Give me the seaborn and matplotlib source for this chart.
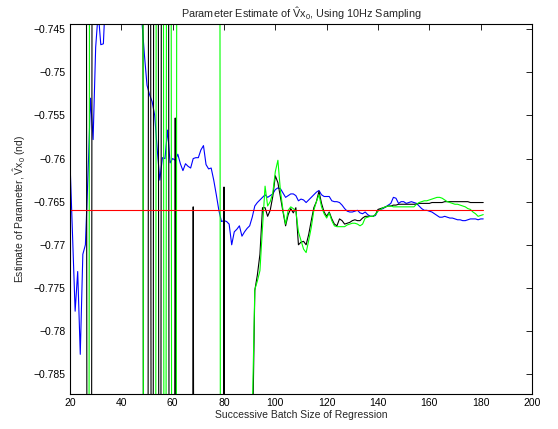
import numpy as np
import pandas as pd
import matplotlib
matplotlib.use("Agg")
import matplotlib.pyplot as plt
import seaborn as sns

# ---------------- data ----------------
batch_size = np.arange(20, 182)  # successive batch sizes 20..181

true_value = -0.766  # reference (red) line

# Off-scale estimates of the diverging early batches (far above / far below the window)
HI = -0.600
LO = -0.932

blue_est = [
    -0.7604, -0.7690, -0.7777, -0.7731, -0.7827, -0.7711, -0.7700, -0.7620, -0.7530, -0.7578,  # 20-29
    -0.7471, -0.7430, -0.7468, -0.7467, -0.7400, -0.7350, -0.7330, -0.7320, -0.7300, -0.7310,  # 30-39
    -0.7300, -0.7290, -0.7300, -0.7320, -0.7340, -0.7360, -0.7380, -0.7400, -0.7440, -0.7480,  # 40-49
    -0.7515, -0.7526, -0.7534, -0.7550, -0.7590, -0.7625, -0.7599, -0.7600, -0.7567, -0.7605,  # 50-59
    -0.7600, -0.7602, -0.7595, -0.7606, -0.7614, -0.7606, -0.7609, -0.7611, -0.7600, -0.7599,  # 60-69
    -0.7599, -0.7590, -0.7585, -0.7607, -0.7612, -0.7611, -0.7625, -0.7642, -0.7660, -0.7673,  # 70-79
    -0.7672, -0.7673, -0.7676, -0.7700, -0.7685, -0.7682, -0.7678, -0.7690, -0.7685, -0.7681,  # 80-89
    -0.7678, -0.7668, -0.7655, -0.7651, -0.7648, -0.7645, -0.7642, -0.7645, -0.7643, -0.7641,  # 90-99
    -0.7636, -0.7634, -0.7635, -0.7640, -0.7645, -0.7643, -0.7641, -0.7641, -0.7643, -0.7649,  # 100-109
    -0.7647, -0.7648, -0.7651, -0.7648, -0.7645, -0.7642, -0.7639, -0.7637, -0.7642, -0.7644,  # 110-119
    -0.7644, -0.7644, -0.7649, -0.7650, -0.7650, -0.7651, -0.7654, -0.7658, -0.7661, -0.7662,  # 120-129
    -0.7662, -0.7661, -0.7660, -0.7663, -0.7664, -0.7662, -0.7665, -0.7667, -0.7667, -0.7666,  # 130-139
    -0.7660, -0.7659, -0.7658, -0.7656, -0.7654, -0.7652, -0.7645, -0.7646, -0.7652, -0.7650,  # 140-149
    -0.7650, -0.7652, -0.7651, -0.7650, -0.7651, -0.7652, -0.7655, -0.7658, -0.7660, -0.7660,  # 150-159
    -0.7661, -0.7662, -0.7664, -0.7666, -0.7668, -0.7668, -0.7667, -0.7668, -0.7669, -0.7669,  # 160-169
    -0.7670, -0.7671, -0.7671, -0.7672, -0.7672, -0.7671, -0.7670, -0.7670, -0.7670, -0.7671,  # 170-179
    -0.7670, -0.7670,                                                                          # 180-181
]

black_est = [
    HI, HI, HI, HI, HI, HI, HI, LO, LO, HI,                                                    # 20-29
    HI, HI, HI, HI, HI, HI, HI, HI, HI, HI,                                                    # 30-39
    HI, HI, HI, HI, HI, HI, HI, HI, HI, LO,                                                    # 40-49
    LO, HI, LO, HI, HI, LO, HI, HI, HI, LO,                                                    # 50-59
    LO, -0.7553, LO, LO, LO, LO, LO, LO, -0.7656, LO,                                          # 60-69
    LO, LO, LO, LO, LO, LO, LO, LO, LO, LO,                                                    # 70-79
    -0.7633, LO, LO, LO, LO, LO, LO, LO, LO, LO,                                               # 80-89
    LO, -0.7950, -0.7753, -0.7735, -0.7711, -0.7657, -0.7657, -0.7667, -0.7660, -0.7644,       # 90-99
    -0.7620, -0.7628, -0.7645, -0.7662, -0.7678, -0.7665, -0.7658, -0.7663, -0.7657, -0.7700,  # 100-109
    -0.7697, -0.7696, -0.7700, -0.7688, -0.7672, -0.7657, -0.7650, -0.7638, -0.7652, -0.7662,  # 110-119
    -0.7667, -0.7662, -0.7670, -0.7676, -0.7678, -0.7670, -0.7672, -0.7676, -0.7675, -0.7674,  # 120-129
    -0.7672, -0.7671, -0.7672, -0.7672, -0.7669, -0.7667, -0.7667, -0.7667, -0.7667, -0.7665,  # 130-139
    -0.7659, -0.7658, -0.7657, -0.7656, -0.7655, -0.7655, -0.7654, -0.7654, -0.7653, -0.7653,  # 140-149
    -0.7653, -0.7653, -0.7653, -0.7653, -0.7653, -0.7653, -0.7652, -0.7652, -0.7652, -0.7652,  # 150-159
    -0.7652, -0.7651, -0.7651, -0.7651, -0.7651, -0.7651, -0.7650, -0.7650, -0.7650, -0.7650,  # 160-169
    -0.7650, -0.7650, -0.7650, -0.7650, -0.7650, -0.7650, -0.7651, -0.7651, -0.7651, -0.7651,  # 170-179
    -0.7651, -0.7651,                                                                          # 180-181
]

green_est = [
    LO, LO, LO, LO, LO, LO, LO, LO, HI, HI,                                                    # 20-29
    HI, HI, HI, HI, HI, HI, HI, HI, HI, HI,                                                    # 30-39
    HI, HI, HI, HI, HI, HI, HI, HI, HI, LO,                                                    # 40-49
    LO, LO, LO, LO, HI, HI, HI, LO, HI, HI,                                                    # 50-59
    LO, LO, HI, HI, HI, HI, HI, HI, HI, HI,                                                    # 60-69
    HI, HI, HI, HI, HI, HI, HI, HI, HI, LO,                                                    # 70-79
    LO, LO, LO, LO, LO, LO, LO, LO, LO, LO,                                                    # 80-89
    LO, -0.7900, -0.7752, -0.7742, -0.7730, -0.7680, -0.7632, -0.7655, -0.7650, -0.7640,       # 90-99
    -0.7615, -0.7602, -0.7638, -0.7660, -0.7676, -0.7660, -0.7656, -0.7658, -0.7661, -0.7685,  # 100-109
    -0.7695, -0.7705, -0.7709, -0.7695, -0.7680, -0.7660, -0.7650, -0.7642, -0.7656, -0.7664,  # 110-119
    -0.7669, -0.7663, -0.7672, -0.7678, -0.7679, -0.7679, -0.7679, -0.7679, -0.7677, -0.7676,  # 120-129
    -0.7675, -0.7675, -0.7676, -0.7678, -0.7676, -0.7669, -0.7668, -0.7667, -0.7667, -0.7665,  # 130-139
    -0.7661, -0.7659, -0.7657, -0.7656, -0.7655, -0.7655, -0.7656, -0.7656, -0.7656, -0.7656,  # 140-149
    -0.7656, -0.7656, -0.7656, -0.7656, -0.7656, -0.7653, -0.7651, -0.7650, -0.7649, -0.7649,  # 150-159
    -0.7648, -0.7647, -0.7646, -0.7645, -0.7645, -0.7646, -0.7648, -0.7650, -0.7651, -0.7652,  # 160-169
    -0.7653, -0.7653, -0.7654, -0.7655, -0.7656, -0.7658, -0.7659, -0.7662, -0.7664, -0.7667,  # 170-179
    -0.7666, -0.7665,                                                                          # 180-181
]

x_ticks = [20, 40, 60, 80, 100, 120, 140, 160, 180, 200]
y_ticks = [-0.785, -0.78, -0.775, -0.77, -0.765, -0.76, -0.755, -0.75, -0.745]
y_ticklabels = ["\u22120.785", "\u22120.78", "\u22120.775", "\u22120.77", "\u22120.765",
                "\u22120.76", "\u22120.755", "\u22120.75", "\u22120.745"]

# ---------------- style ----------------
sns.set_theme(style="white")
plt.rcParams["font.family"] = ["Liberation Sans", "DejaVu Sans"]
plt.rcParams["mathtext.fontset"] = "custom"
plt.rcParams["mathtext.rm"] = "Liberation Sans"
plt.rcParams["mathtext.it"] = "Liberation Sans"
plt.rcParams["mathtext.bf"] = "Liberation Sans"
plt.rcParams["path.simplify"] = False

fig = plt.figure(figsize=(5.58, 4.29), dpi=100)
ax = fig.add_axes([70 / 558, 1 - 394 / 429, 462 / 558, 370 / 429])

lw = 0.8
sns.lineplot(x=batch_size, y=blue_est, color="#0000ff", lw=lw, ax=ax,
             estimator=None, sort=False)
sns.lineplot(x=batch_size, y=black_est, color="#000000", lw=lw, ax=ax,
             estimator=None, sort=False)
sns.lineplot(x=batch_size, y=green_est, color="#00ff00", lw=lw, ax=ax,
             estimator=None, sort=False)
sns.lineplot(x=batch_size, y=np.full(len(batch_size), true_value), color="#ff0000",
             lw=lw, ax=ax, estimator=None, sort=False)

ax.set_xlim(20, 200)
ax.set_ylim(-0.7873, -0.7444)
ax.set_xticks(x_ticks)
ax.set_xticklabels([str(t) for t in x_ticks])
ax.set_yticks(y_ticks)
ax.set_yticklabels(y_ticklabels)

ax.tick_params(direction="in", length=4, width=0.6, top=True, right=True,
               labelsize=7.5, pad=3, colors="black")
for s in ax.spines.values():
    s.set_visible(True)
    s.set_color("black")
    s.set_linewidth(0.8)

ax.set_title(r"Parameter Estimate of $\hat{\mathrm{V}}$x$_{0}$, Using 10Hz Sampling",
             fontsize=7.8, pad=4)
ax.set_xlabel("Successive Batch Size of Regression", fontsize=7.5, labelpad=1)
ax.set_ylabel(r"Estimate of Parameter, $\hat{\mathrm{V}}$x$_{0}$ (nd)", fontsize=7.5,
              labelpad=4)
ax.grid(False)

fig.savefig("out.png", dpi=100, facecolor="white")
